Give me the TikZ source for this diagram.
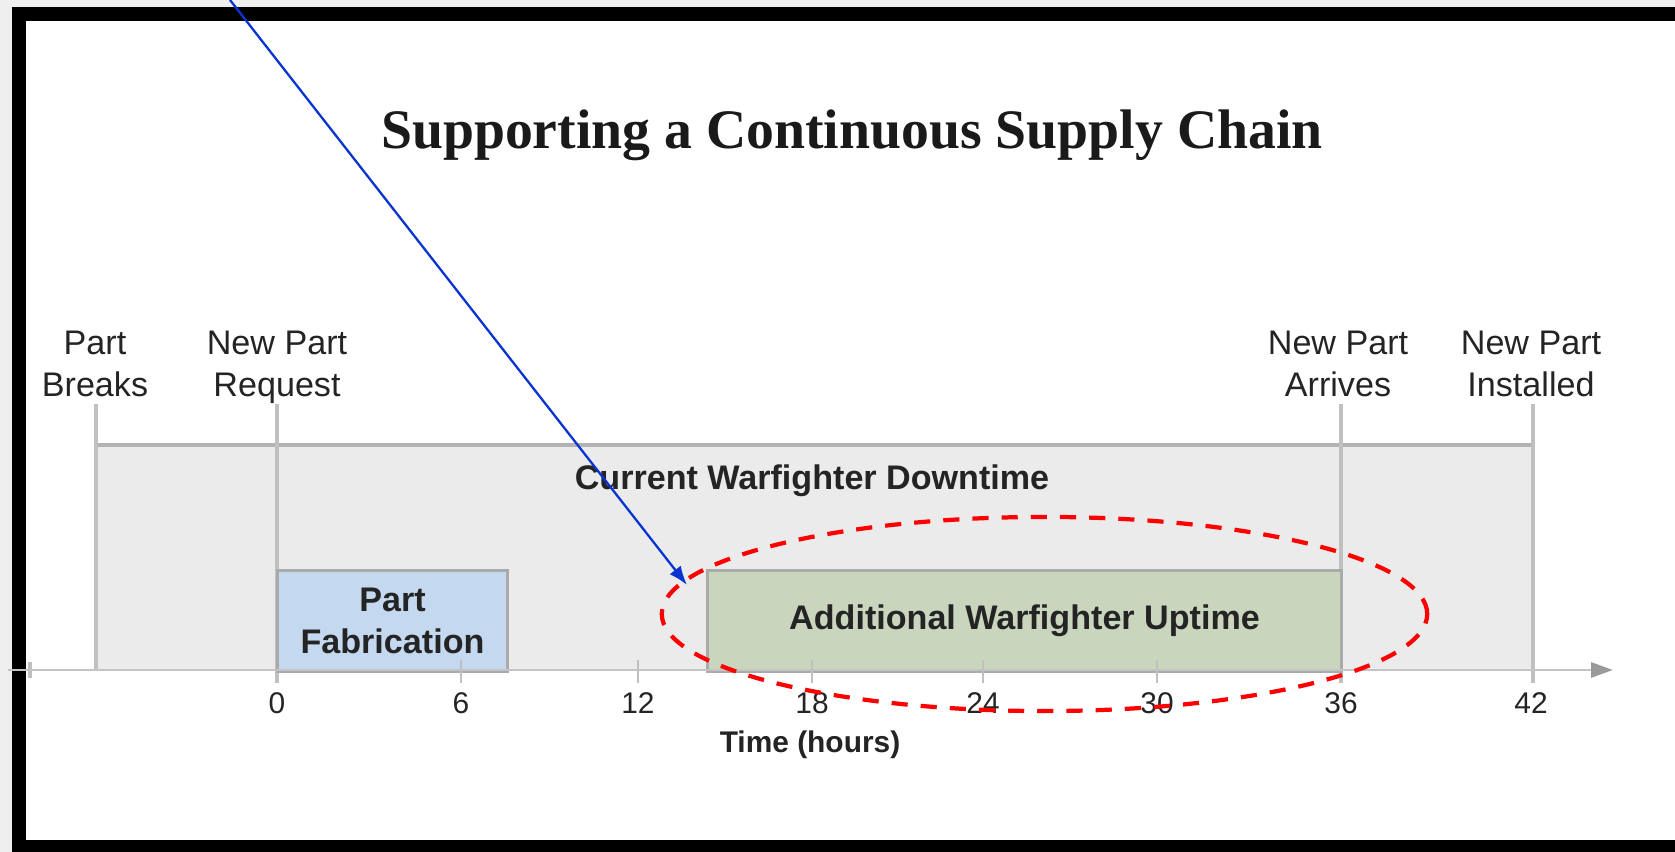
\documentclass[tikz,border=0pt]{standalone}
\usepackage{fontspec}
\setmainfont{Liberation Serif}
\setsansfont{Liberation Sans}
\usetikzlibrary{arrows.meta}

\definecolor{margingray}{HTML}{EFEFEF}
\definecolor{bandfill}{HTML}{EBEBEB}
\definecolor{bandedge}{HTML}{B3B3B3}
\definecolor{gridgray}{HTML}{C0C0C0}
\definecolor{axisgray}{HTML}{C4C4C4}
\definecolor{tipgray}{HTML}{9A9A9A}
\definecolor{boxedge}{HTML}{AAAAAA}
\definecolor{fabfill}{HTML}{C4D9EF}
\definecolor{upfill}{HTML}{CAD5BD}
\definecolor{labelink}{HTML}{242424}
\definecolor{titleink}{HTML}{1A1A1A}
\definecolor{ringred}{HTML}{FF0000}
\definecolor{pointerblue}{HTML}{0A34D2}

\begin{document}
\begin{tikzpicture}[x=0.01cm, y=-0.01cm,
  titletext/.style={font=\rmfamily\bfseries\fontsize{15.85}{19}\selectfont,
    text=titleink, inner sep=0pt, anchor=base},
  eventlabel/.style={font=\sffamily\fontsize{9.7}{11.95}\selectfont,
    text=labelink, align=center, inner sep=0pt, anchor=north},
  boldlabel/.style={font=\sffamily\bfseries\fontsize{9.7}{11.95}\selectfont,
    text=labelink, align=center, inner sep=0pt},
  ticklabel/.style={font=\sffamily\fontsize{8.5}{10}\selectfont,
    text=labelink, inner sep=0pt, anchor=north},
  axistitle/.style={font=\sffamily\bfseries\fontsize{8.5}{10}\selectfont,
    text=labelink, inner sep=0pt, anchor=base},
  gridline/.style={draw=gridgray, line width=1.1pt},
  minortick/.style={draw=gridgray, line width=0.6pt},
  phasebox/.style={boldlabel, draw=boxedge, line width=0.9pt,
    minimum height=1.01cm},
  ring/.style={draw=ringred, line width=1.2pt, dash pattern=on 4.6pt off 3.7pt},
  pointer/.style={draw=pointerblue, line width=0.65pt,
    -{Latex[length=0.19cm, width=0.14cm]}},
]
\useasboundingbox (0,0) rectangle (1675,852);

% screen margin and black frame around the slide
\fill[margingray] (0,0) rectangle (1675,852);
\fill[black] (12,7) rectangle (1675,852);
\fill[white] (26,21) rectangle (1675,840);

% title
\node[titletext] (title) at (852,149) {Supporting a Continuous Supply Chain};

% downtime band
\fill[bandfill] (96,445) rectangle (1533,671);
\draw[bandedge, line width=0.9pt] (96,445) -- (1533,445);

% event markers
\coordinate (breaksTop) at (96,404);   \coordinate (breaksFoot) at (96,671);
\coordinate (requestTop) at (277,404); \coordinate (requestFoot) at (277,683);
\coordinate (arrivesTop) at (1341,404); \coordinate (arrivesFoot) at (1341,683);
\coordinate (installTop) at (1533,404); \coordinate (installFoot) at (1533,683);
\draw[gridline] (breaksTop) -- (breaksFoot);
\draw[gridline] (requestTop) -- (requestFoot);
\draw[gridline] (arrivesTop) -- (arrivesFoot);
\draw[gridline] (installTop) -- (installFoot);

\node[eventlabel] (breaks) at (95,330) {Part\\Breaks};
\node[eventlabel] (request) at (277,330) {New Part\\Request};
\node[eventlabel] (arrives) at (1338,330) {New Part\\Arrives};
\node[eventlabel] (installed) at (1531,330) {New Part\\Installed};

\node[boldlabel, anchor=base] (downtime) at (812,490) {Current Warfighter Downtime};

% phase boxes
\node[phasebox, fill=fabfill, minimum width=2.30cm] (fab) at (392.5,621)
  {Part\\Fabrication};
\node[phasebox, fill=upfill, minimum width=6.33cm] (uptime) at (1024.5,621)
  {Additional Warfighter Uptime};

% time axis
\coordinate (axisStart) at (8,670);
\coordinate (axisEnd) at (1613,670);
\draw[draw=axisgray, line width=0.85pt,
  -{Triangle[length=0.22cm, width=0.15cm, color=tipgray]}] (axisStart) -- (axisEnd);
\draw[minortick, line width=0.9pt] (30,662) -- (30,678);
\foreach \x in {461,638,812,983,1157}
  \draw[minortick] (\x,660) -- (\x,683);
\foreach \h/\x in {0/277, 6/461, 12/638, 18/812, 24/983, 30/1157, 36/1341, 42/1531}
  \node[ticklabel] (tick\h) at (\x,692) {\h};
\node[axistitle] (timetitle) at (810,753) {Time (hours)};

% highlight ring and pointer
\draw[ring] (1044.5,614) ellipse [x radius=3.825cm, y radius=0.97cm];
\coordinate (pointerStart) at (230,0);
\coordinate (pointerTip) at (687,585);
\draw[pointer] (pointerStart) -- (pointerTip);
\end{tikzpicture}
\end{document}
